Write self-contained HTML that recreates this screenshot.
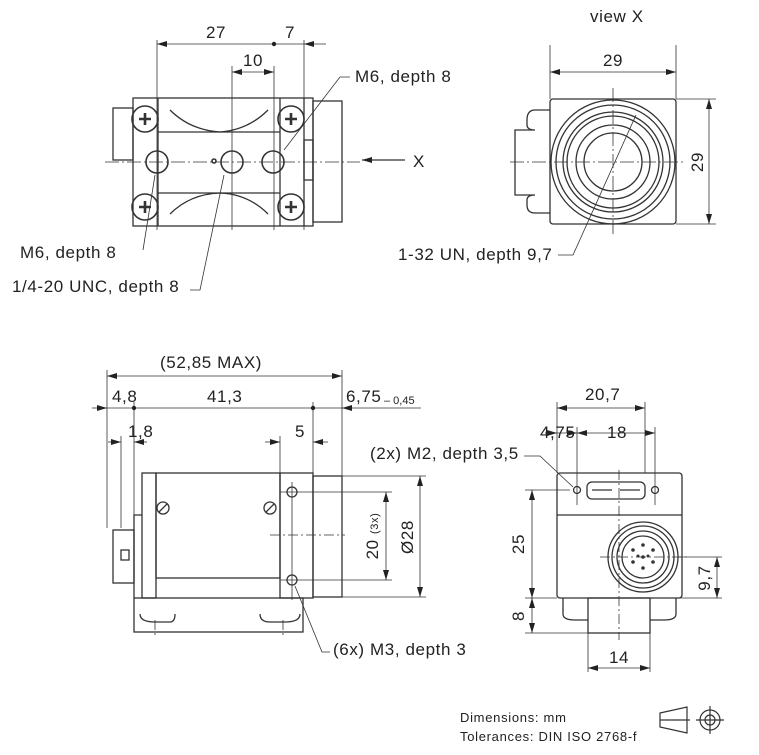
<!DOCTYPE html>
<html><head><meta charset="utf-8"><style>
html,body{margin:0;padding:0;background:#fff}
svg{display:block}
text{font-family:"Liberation Sans",sans-serif;fill:#222}
</style></head><body>
<svg width="759" height="755" viewBox="0 0 759 755" xmlns="http://www.w3.org/2000/svg">
<defs>
<marker id="a" viewBox="0 0 10 6" refX="10" refY="3" markerWidth="10" markerHeight="6" orient="auto-start-reverse" markerUnits="userSpaceOnUse"><path d="M0,0 L10,3 L0,6z" fill="#222"/></marker>
</defs>
<g stroke="#333" stroke-width="1.3" fill="none">
<!-- TOP LEFT VIEW -->
<rect x="133" y="98" width="180" height="128"/>
<rect x="113" y="108" width="20" height="52"/>
<rect x="313" y="101" width="29" height="121"/>
<line x1="158" y1="98" x2="158" y2="226"/><line x1="280" y1="98" x2="280" y2="226"/><line x1="304" y1="98" x2="304" y2="226"/>
<path d="M158,132 H280 M158,193 H280"/>
<path d="M170,110 Q190,130 220,132 M268,110 Q248,130 220,132 M170,214 Q190,194 220,193 M268,214 Q248,194 220,193"/>
<rect x="304" y="140" width="9" height="40"/>
<g stroke-width="1.6">
<circle cx="145" cy="119" r="13"/><circle cx="291" cy="119" r="13"/><circle cx="145" cy="207" r="13"/><circle cx="291" cy="207" r="13"/>
<circle cx="157" cy="162" r="11"/><circle cx="232" cy="162" r="11"/><circle cx="273" cy="162" r="11"/>
<circle cx="214" cy="161" r="2"/>
<path stroke-width="2.6" d="M139,119h12M145,113v12M285,119h12M291,113v12M139,207h12M145,201v12M285,207h12M291,201v12"/>
</g>
<g stroke-width="0.8" stroke-dasharray="14,3,2,3">
<line x1="105" y1="162" x2="360" y2="162"/>
</g>
<g stroke-width="0.8">
<line x1="157" y1="40" x2="157" y2="230"/><line x1="232" y1="66" x2="232" y2="230"/><line x1="274" y1="66" x2="274" y2="230"/><line x1="304" y1="40" x2="304" y2="230"/>
<line x1="157" y1="44" x2="274" y2="44" marker-start="url(#a)"/><line x1="274" y1="44" x2="304" y2="44"/><line x1="326" y1="44" x2="304" y2="44" marker-end="url(#a)"/>
<line x1="232" y1="72" x2="274" y2="72" marker-start="url(#a)" marker-end="url(#a)"/>
<path d="M350,77 H340 L284,150"/><path d="M143,250 L155,175"/><path d="M190,290 L200,290 L224,175"/>
<line x1="405" y1="160" x2="362" y2="160" marker-end="url(#a)" stroke-width="1.3"/>
</g>
<!-- TOP RIGHT VIEW -->
<rect x="550" y="99" width="126" height="125" rx="3"/>
<path d="M550,110 H535 Q527,110 527,120 V125 Q527,130 535,130 H515 V195 H535 Q527,195 527,200 V205 Q527,213 535,213 H550"/>
<circle cx="613" cy="162" r="62"/><circle cx="613" cy="162" r="57"/><circle cx="613" cy="162" r="50"/><circle cx="613" cy="162" r="46"/><circle cx="613" cy="162" r="37"/><circle cx="613" cy="162" r="29"/>
<g stroke-width="0.8">
<path d="M510,162 H686 M613,88 V236" stroke-dasharray="14,3,2,3"/>
<line x1="550" y1="45" x2="550" y2="99"/><line x1="676" y1="45" x2="676" y2="99"/>
<line x1="550" y1="72" x2="676" y2="72" marker-start="url(#a)" marker-end="url(#a)"/>
<line x1="676" y1="99" x2="716" y2="99"/><line x1="676" y1="224" x2="716" y2="224"/>
<line x1="709" y1="99" x2="709" y2="224" marker-start="url(#a)" marker-end="url(#a)"/>
<path d="M558,255 H573 L636,115"/>
</g>
<!-- BOTTOM LEFT VIEW -->
<rect x="142" y="473" width="14" height="125"/>
<rect x="156" y="473" width="124" height="105"/>
<rect x="280" y="473" width="33" height="125"/>
<rect x="313" y="476" width="29" height="121"/>
<rect x="134" y="598" width="169" height="34"/>
<rect x="113" y="530" width="21" height="53"/>
<rect x="121" y="550" width="8" height="10"/>
<path d="M142,515 H134 V598"/>
<path d="M140,614 Q140,622 155,622 H170 Q175,622 175,614 M260,614 Q260,622 270,622 H285 Q300,622 300,614"/>
<circle cx="292" cy="492" r="5"/><circle cx="292" cy="580" r="5"/>
<circle cx="163" cy="508" r="6"/><circle cx="270" cy="508" r="6"/>
<path d="M159,512 L167,504 M266,512 L274,504"/>
<g stroke-width="0.8">
<path d="M270,535 H345 M283,620 V636 M155,620 V636" stroke-dasharray="10,3,2,3"/>
<line x1="107" y1="370" x2="107" y2="528"/><line x1="121" y1="436" x2="121" y2="528"/><line x1="134" y1="402" x2="134" y2="528"/>
<line x1="280" y1="436" x2="280" y2="473"/><line x1="313" y1="402" x2="313" y2="473"/><line x1="342" y1="370" x2="342" y2="476"/>
<line x1="107" y1="376" x2="342" y2="376" marker-start="url(#a)" marker-end="url(#a)"/>
<line x1="92" y1="408" x2="107" y2="408" marker-end="url(#a)"/><line x1="107" y1="408" x2="350" y2="408"/>
<line x1="421" y1="408" x2="342" y2="408" marker-end="url(#a)"/>
<line x1="108" y1="442" x2="121" y2="442" marker-end="url(#a)"/><line x1="147" y1="442" x2="134" y2="442" marker-end="url(#a)"/>
<line x1="265" y1="442" x2="280" y2="442" marker-end="url(#a)"/><line x1="328" y1="442" x2="313" y2="442" marker-end="url(#a)"/>
<line x1="280" y1="492" x2="392" y2="492"/><line x1="280" y1="580" x2="392" y2="580"/>
<line x1="342" y1="476" x2="426" y2="476"/><line x1="342" y1="597" x2="426" y2="597"/>
<line x1="386" y1="492" x2="386" y2="580" marker-start="url(#a)" marker-end="url(#a)"/>
<line x1="420" y1="476" x2="420" y2="597" marker-start="url(#a)" marker-end="url(#a)"/>
<line x1="292" y1="482" x2="292" y2="600"/>
<path d="M330,652 H322 L295,586"/>
</g>
<g fill="#222" stroke="none"><circle cx="134" cy="408" r="2.2"/><circle cx="313" cy="408" r="2.2"/><circle cx="274" cy="44" r="2.2"/></g>
<!-- BOTTOM RIGHT VIEW -->
<rect x="557" y="473" width="125" height="125" rx="3"/>
<line x1="557" y1="515" x2="682" y2="515"/>
<rect x="588" y="598" width="62" height="35"/>
<path d="M563,598 V614 Q563,620 575,620 H588 M676,598 V614 Q676,620 664,620 H650"/>
<rect x="587" y="482" width="58" height="17" rx="5"/>
<path d="M592,490 h20 M620,490 h20"/>
<circle cx="577" cy="490" r="3.5"/><circle cx="655" cy="490" r="3.5"/>
<circle cx="643" cy="557" r="35"/><circle cx="643" cy="557" r="31"/><circle cx="643" cy="557" r="26"/><circle cx="643" cy="557" r="21"/>
<g fill="#333" stroke="none"><circle cx="643" cy="545" r="1.8"/><circle cx="633" cy="550" r="1.8"/><circle cx="653" cy="550" r="1.8"/><circle cx="633" cy="562" r="1.8"/><circle cx="653" cy="562" r="1.8"/><circle cx="643" cy="568" r="1.8"/><circle cx="643" cy="557" r="1.8"/><circle cx="638" cy="556" r="1.5"/><circle cx="648" cy="556" r="1.5"/></g>
<g stroke-width="0.8">
<path d="M619,470 V640 M600,557 H690" stroke-dasharray="10,3,2,3"/>
<line x1="557" y1="402" x2="557" y2="473"/><line x1="577" y1="427" x2="577" y2="505"/><line x1="645" y1="402" x2="645" y2="473"/><line x1="655" y1="427" x2="655" y2="505"/>
<line x1="557" y1="408" x2="645" y2="408" marker-start="url(#a)" marker-end="url(#a)"/>
<line x1="545" y1="433" x2="557" y2="433" marker-end="url(#a)"/><line x1="557" y1="433" x2="577" y2="433" marker-end="url(#a)"/>
<line x1="577" y1="433" x2="655" y2="433" marker-start="url(#a)" marker-end="url(#a)"/>
<line x1="525" y1="490" x2="570" y2="490"/><line x1="525" y1="598" x2="557" y2="598"/><line x1="525" y1="633" x2="588" y2="633"/>
<line x1="532" y1="490" x2="532" y2="598" marker-start="url(#a)" marker-end="url(#a)"/>
<line x1="532" y1="598" x2="532" y2="633" marker-start="url(#a)" marker-end="url(#a)"/>
<line x1="676" y1="598" x2="722" y2="598"/><line x1="678" y1="557" x2="722" y2="557"/>
<line x1="717" y1="557" x2="717" y2="598" marker-start="url(#a)" marker-end="url(#a)"/>
<line x1="588" y1="633" x2="588" y2="672"/><line x1="650" y1="633" x2="650" y2="672"/>
<line x1="588" y1="668" x2="650" y2="668" marker-start="url(#a)" marker-end="url(#a)"/>
<path d="M524,456 L540,456 L573,487"/>
</g>
<!-- tolerance icons -->
<path d="M660,713 L687,707 V733 L660,727 Z M660,720 H690" stroke-width="1.2"/>
<circle cx="710" cy="720" r="10" stroke-width="1.2"/><circle cx="710" cy="720" r="5" stroke-width="1.2"/><path d="M696,720 H724 M710,706 V734" stroke-width="1.2"/>
</g>
<g font-size="17" letter-spacing="0.6">
<text x="590" y="22">view X</text>
<text x="206" y="38">27</text><text x="285" y="38">7</text><text x="243" y="66">10</text>
<text x="355" y="82">M6, depth 8</text>
<text x="413" y="167">X</text>
<text x="20" y="258">M6, depth 8</text>
<text x="12" y="292">1/4-20 UNC, depth 8</text>
<text x="603" y="66">29</text>
<text x="398" y="260">1-32 UN, depth 9,7</text>
<text x="703" y="162" transform="rotate(-90 703 162)" text-anchor="middle">29</text>
<text x="160" y="368">(52,85 MAX)</text>
<text x="112" y="402">4,8</text><text x="207" y="402">41,3</text><text x="346" y="402">6,75</text><text x="384" y="404" font-size="11" letter-spacing="0">– 0,45</text>
<text x="128" y="437">1,8</text><text x="295" y="437">5</text>
<text x="370" y="459">(2x) M2, depth 3,5</text>
<text x="378" y="536" transform="rotate(-90 378 536)" text-anchor="middle">20 <tspan font-size="11">(3x)</tspan></text>
<text x="413" y="537" transform="rotate(-90 413 537)" text-anchor="middle">Ø28</text>
<text x="333" y="655">(6x) M3, depth 3</text>
<text x="585" y="400">20,7</text><text x="540" y="438">4,75</text><text x="607" y="438">18</text>
<text x="524" y="544" transform="rotate(-90 524 544)" text-anchor="middle">25</text>
<text x="524" y="616" transform="rotate(-90 524 616)" text-anchor="middle">8</text>
<text x="710" y="578" transform="rotate(-90 710 578)" text-anchor="middle">9,7</text>
<text x="609" y="663">14</text>
</g>
<g font-size="13" letter-spacing="0.7"><text x="460" y="722">Dimensions: mm</text><text x="460" y="741">Tolerances: DIN ISO 2768-f</text></g>
</svg>
</body></html>
